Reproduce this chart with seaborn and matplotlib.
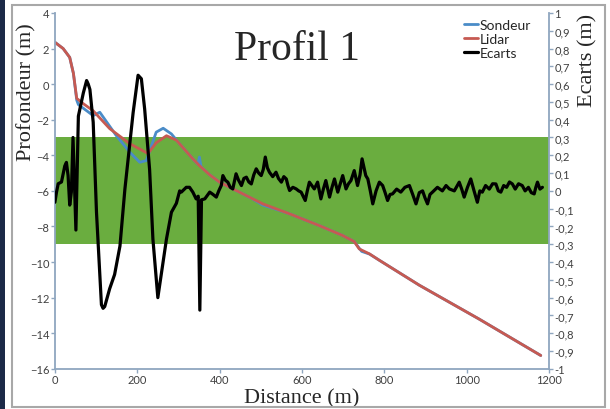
import matplotlib
matplotlib.use("Agg")
import matplotlib.pyplot as plt
import matplotlib.patches as patches
import seaborn as sns
import pandas as pd

# Profil 1 - depth from echo sounder and lidar, plus their differences
dist_lidar = [0, 20, 36, 45, 53, 69, 93, 133, 182, 226, 246, 271, 295, 303, 335, 351,
              376, 400, 448, 505, 570, 642, 699, 727, 739, 764, 788, 885, 1030, 1180]
lidar = [2.35, 2.0, 1.5, 0.6, -0.8, -1.1, -1.5, -2.5, -3.35, -3.9, -3.3, -2.9, -3.15, -3.36,
         -4.2, -4.58, -5.1, -5.51, -6.07, -6.73, -7.29, -7.95, -8.51, -8.85, -9.26, -9.54,
         -9.9, -11.3, -13.2, -15.25]

dist_sondeur = [0, 20, 36, 45, 53, 57, 93, 109, 149, 182, 206, 222, 246, 263, 283, 303,
                335, 347, 351, 355, 376, 400, 448, 480, 505, 530, 570, 642, 699, 727, 745,
                764, 788, 885, 1030, 1180]
sondeur = [2.35, 2.0, 1.5, 0.6, -0.9, -1.15, -1.77, -1.58, -2.89, -3.83, -4.39, -4.3, -2.7,
           -2.48, -2.8, -3.36, -4.2, -4.5, -4.1, -4.65, -5.1, -5.51, -6.07, -6.45, -6.8,
           -6.98, -7.29, -7.95, -8.51, -8.85, -9.4, -9.55, -9.9, -11.3, -13.2, -15.25]

dist_ecarts = [0, 4, 8, 16, 24, 28, 32, 36, 40, 44, 51, 57, 69, 77, 81, 85, 93, 101, 113,
               117, 121, 133, 145, 158, 170, 190, 202, 210, 218, 230, 238, 250, 259, 271,
               283, 295, 303, 307, 319, 327, 335, 343, 348, 352, 356, 364, 376, 384, 392,
               398, 404, 408, 414, 420, 426, 432, 440, 446, 453, 459, 465, 471, 477, 483,
               489, 495, 501, 506, 511, 516, 521, 529, 537, 543, 550, 556, 562, 566, 570,
               578, 586, 592, 598, 608, 613, 618, 624, 630, 638, 646, 652, 658, 667, 673,
               679, 687, 693, 699, 707, 713, 719, 727, 735, 741, 746, 755, 760, 766, 772,
               780, 788, 796, 802, 808, 814, 820, 830, 840, 850, 861, 869, 877, 885, 893,
               899, 905, 911, 917, 929, 941, 950, 958, 970, 982, 988, 994, 1002, 1010,
               1018, 1026, 1032, 1038, 1046, 1055, 1063, 1071, 1077, 1083, 1090, 1097,
               1104, 1111, 1118, 1126, 1135, 1142, 1150, 1157, 1164, 1168, 1172, 1178, 1184]
ecarts = [-0.064, -0.006, 0.04, 0.05, 0.14, 0.16, 0.086, -0.08, -0.006, 0.30, -0.22, 0.42,
          0.55, 0.62, 0.60, 0.57, 0.386, -0.12, -0.64, -0.66, -0.65, -0.55, -0.47, -0.31,
          0.01, 0.44, 0.65, 0.63, 0.46, 0.12, -0.27, -0.60, -0.46, -0.27, -0.12, -0.07,
          0.0, -0.007, 0.02, 0.02, -0.007, -0.045, -0.03, -0.67, -0.05, -0.045, -0.007,
          -0.02, -0.035, 0.0, 0.03, 0.086, 0.06, 0.049, 0.02, 0.011, 0.096, 0.06, 0.03,
          0.07, 0.077, 0.05, 0.039, 0.09, 0.124, 0.1, 0.086, 0.12, 0.19, 0.13, 0.105,
          0.08, 0.105, 0.07, 0.049, 0.08, 0.067, 0.03, 0.002, 0.02, 0.011, 0.0, -0.007,
          -0.054, 0.0, 0.049, 0.03, 0.011, 0.049, -0.045, 0.01, 0.058, -0.035, 0.02,
          0.067, -0.007, 0.04, 0.086, 0.011, 0.04, 0.058, 0.114, 0.03, 0.09, 0.18, 0.086,
          0.067, 0.0, -0.073, 0.0, 0.049, 0.03, -0.01, -0.054, -0.02, -0.017, 0.01,
          -0.007, 0.02, 0.03, -0.02, -0.073, -0.01, 0.0, -0.04, -0.073, -0.02, -0.007,
          0.02, 0.0, 0.03, 0.011, 0.0, 0.049, 0.01, -0.035, 0.02, 0.067, 0.0, -0.064,
          0.0, -0.007, 0.03, 0.01, 0.04, 0.039, 0.0, -0.007, 0.03, 0.02, 0.05, 0.039,
          0.01, 0.04, 0.03, 0.0, 0.02, -0.01, -0.017, 0.02, 0.049, 0.01, 0.02]

depth_ticks = list(range(-16, 5, 2))
ecart_ticks = [-1, -0.9, -0.8, -0.7, -0.6, -0.5, -0.4, -0.3, -0.2, -0.1, 0,
               0.1, 0.2, 0.3, 0.4, 0.5, 0.6, 0.7, 0.8, 0.9, 1]
dist_ticks = [0, 200, 400, 600, 800, 1000, 1200]

BLUE = "#4a8cc8"
RED = "#c65a52"
GREEN = "#6aad3f"
AXIS = "#8fa6bf"
TICKTXT = "#404040"

sns.set_style("white")
plt.rcParams["font.family"] = ["Lato", "DejaVu Sans"]

fig = plt.figure(figsize=(6.1, 4.1), dpi=100)
ax = fig.add_axes([0.090, 0.098, 0.810, 0.868])
ax2 = ax.twinx()

# tolerance band +/-0.3 m (same as -3..-9 on the depth axis)
ax.axhspan(-9, -3, color=GREEN, zorder=0, lw=0)

df_s = pd.DataFrame({"Distance": dist_sondeur, "Profondeur": sondeur})
df_l = pd.DataFrame({"Distance": dist_lidar, "Profondeur": lidar})
df_e = pd.DataFrame({"Distance": dist_ecarts, "Ecarts": ecarts})

sns.lineplot(data=df_s, x="Distance", y="Profondeur", ax=ax, color=BLUE, lw=2,
             sort=False, label="Sondeur", legend=False)
sns.lineplot(data=df_l, x="Distance", y="Profondeur", ax=ax, color=RED, lw=2,
             sort=False, label="Lidar", legend=False)
sns.lineplot(data=df_e, x="Distance", y="Ecarts", ax=ax2, color="black", lw=2.3,
             sort=False, label="Ecarts", legend=False)

ax.set_xlim(0, 1200)
ax.set_ylim(-16, 4)
ax2.set_ylim(-1, 1)
ax.set_xticks(dist_ticks)
ax.set_yticks(depth_ticks)
ax2.set_yticks(ecart_ticks)
ax2.set_yticklabels([("%g" % t).replace(".", ",") for t in ecart_ticks])

for a in (ax, ax2):
    a.spines["top"].set_visible(False)
    for s in ("left", "right", "bottom"):
        a.spines[s].set_color(AXIS)
        a.spines[s].set_linewidth(1.3)
    a.tick_params(length=3, width=1, color=AXIS, labelsize=8, labelcolor=TICKTXT, pad=1)
ax.spines["right"].set_visible(False)
ax2.spines["left"].set_visible(False)
ax2.spines["bottom"].set_visible(False)
ax.tick_params(axis="y", left=True)
ax.tick_params(axis="x", bottom=True)
ax2.tick_params(axis="y", right=True)
ax.grid(False)
ax2.grid(False)

serif = ["Liberation Serif", "DejaVu Serif"]
ax.set_xlabel("Distance (m)", family=serif, fontsize=16, labelpad=2)
ax.set_ylabel("Profondeur (m)", family=serif, fontsize=16)
ax2.set_ylabel("Ecarts (m)", family=serif, fontsize=16)
ax.yaxis.set_label_coords(-0.038, 0.78)
ax2.yaxis.set_label_coords(1.06, 0.87)
fig.text(0.487, 0.878, "Profil 1", family=serif, fontsize=30,
         ha="center", va="center")

handles = ax.get_lines()[:2] + ax2.get_lines()[:1]
leg = fig.legend(handles, ["Sondeur", "Lidar", "Ecarts"], loc="upper left",
                 bbox_to_anchor=(0.745, 0.975), frameon=False, fontsize=10,
                 handlelength=1.0, handletextpad=0.1, labelspacing=0.15,
                 borderpad=0.2)

# outer frame of the figure
fig.patches.append(patches.Rectangle((0.019, 0.006), 0.972, 0.98, transform=fig.transFigure,
                                     fill=False, ec="#a8a8a8", lw=1.5))
fig.patches.append(patches.Rectangle((0.0, 0.0), 0.008, 1.0, transform=fig.transFigure,
                                     fill=True, fc="#1c2a48", lw=0))

plt.savefig("out.png", dpi=100)
plt.close()
